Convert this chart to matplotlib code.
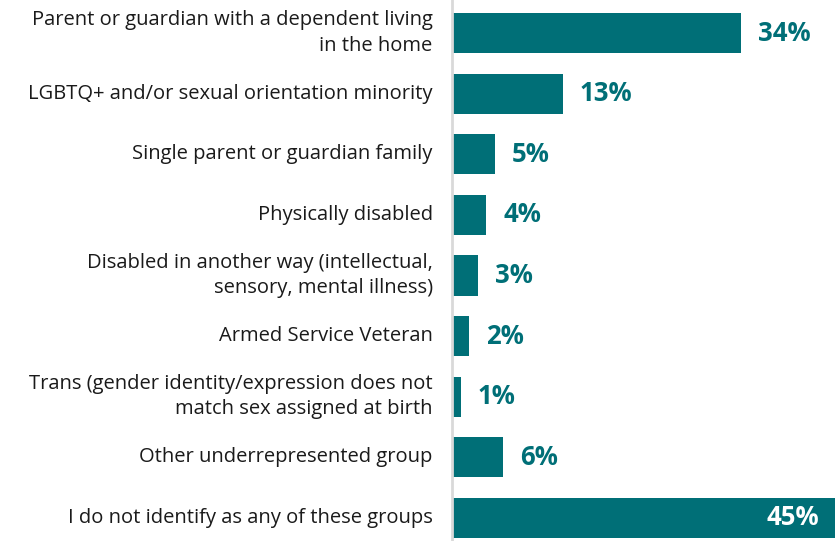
import matplotlib
matplotlib.use("Agg")
import matplotlib.pyplot as plt

groups = [
    "Parent or guardian with a dependent living\nin the home",
    "LGBTQ+ and/or sexual orientation minority",
    "Single parent or guardian family",
    "Physically disabled",
    "Disabled in another way (intellectual,\nsensory, mental illness)",
    "Armed Service Veteran",
    "Trans (gender identity/expression does not\nmatch sex assigned at birth",
    "Other underrepresented group",
    "I do not identify as any of these groups",
]
shares = [34, 13, 5, 4, 3, 2, 1, 6, 45]

TEAL = "#006F77"
FONT = "Open Sans"

fig = plt.figure(figsize=(8.39, 5.41), dpi=100)
ax = fig.add_axes([0.539, 0.0, 0.456, 1.0])

ypos = list(range(len(groups)))
ax.barh(ypos, shares, height=0.66, color=TEAL)

ax.set_xlim(0, 45)
ax.set_ylim(8.38, -0.545)

for y, v in zip(ypos, shares):
    if v == max(shares):
        ax.text(v - 1.9, y, f"{v}%", ha="right", va="center", color="white",
                fontsize=18.5, fontweight="bold", family=FONT)
    else:
        ax.text(v + 2.0, y, f"{v}%", ha="left", va="center", color=TEAL,
                fontsize=18.5, fontweight="bold", family=FONT)

for y, label in zip(ypos, groups):
    ax.text(-2.3, y, label, ha="right", va="center", color="#1a1a1a",
            fontsize=14.5, family=FONT, linespacing=1.35, clip_on=False)

ax.set_xticks([])
ax.set_yticks([])
for side in ("top", "right", "bottom"):
    ax.spines[side].set_visible(False)
ax.spines["left"].set_color("#d9d9d9")
ax.spines["left"].set_linewidth(2)

fig.savefig("out.png", dpi=100, facecolor="white")
